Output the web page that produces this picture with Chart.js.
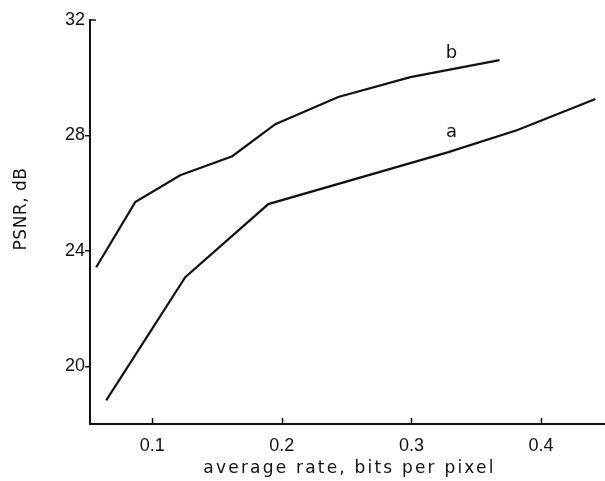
<!DOCTYPE html>
<html>
<head>
<meta charset="utf-8">
<style>
  html, body { margin: 0; padding: 0; background: #fff; }
  #wrap { width: 605px; height: 481px; }
</style>
<script src="https://cdn.jsdelivr.net/npm/chart.js@4.4.1/dist/chart.umd.min.js"></script>
</head>
<body>
<div id="wrap"><canvas id="psnrChart" width="605" height="481"></canvas></div>
<script>
// rate (bits per pixel) vs PSNR (dB) for the two coders
const rateA = [0.0645, 0.1255, 0.1896, 0.3286, 0.3819, 0.442];
const psnrA = [18.82, 23.09, 25.62, 27.42, 28.19, 29.26];
const rateB = [0.0568, 0.0869, 0.1216, 0.1618, 0.195, 0.2436, 0.2992, 0.368];
const psnrB = [23.43, 25.69, 26.62, 27.28, 28.39, 29.33, 30.02, 30.61];
const curveNames = ['a', 'b'];
const xTicks = [0.1, 0.2, 0.3, 0.4];
const yTicks = [20, 24, 28, 32];
const xTitle = 'average rate, bits per pixel';
const yTitle = 'PSNR, dB';

const ink = '#111';

function toPoints(xs, ys) {
    return xs.map((x, i) => ({ x: x, y: ys[i] }));
}

// inward tick marks, curve names and axis titles
const decorations = {
    id: 'decorations',
    afterDraw(chart) {
        const ctx = chart.ctx;
        const xs = chart.scales.x;
        const ys = chart.scales.y;
        const area = chart.chartArea;
        ctx.save();
        ctx.strokeStyle = ink;
        ctx.lineWidth = 1.5;
        xTicks.forEach(v => {
            const px = Math.round(xs.getPixelForValue(v)) + 0.5;
            ctx.beginPath();
            ctx.moveTo(px, area.bottom);
            ctx.lineTo(px, area.bottom - 6);
            ctx.stroke();
        });
        // top tick of the y axis points into the plot
        const topY = ys.getPixelForValue(yTicks[yTicks.length - 1]);
        ctx.beginPath();
        ctx.moveTo(area.left, topY);
        ctx.lineTo(area.left + 6, topY);
        ctx.stroke();

        ctx.fillStyle = ink;
        ctx.font = '18px "DejaVu Sans"';
        ctx.textAlign = 'center';
        ctx.textBaseline = 'middle';
        ctx.fillText(curveNames[0], xs.getPixelForValue(0.331), ys.getPixelForValue(28.12));
        ctx.fillText(curveNames[1], xs.getPixelForValue(0.331), ys.getPixelForValue(30.86));

        ctx.font = '17px "DejaVu Sans"';
        ctx.letterSpacing = '2.2px';
        ctx.fillText(xTitle, (area.left + area.right) / 2 + 2, 469);

        ctx.font = '17px "DejaVu Sans"';
        ctx.letterSpacing = '0.5px';
        ctx.translate(22, (area.top + area.bottom) / 2 - 13);
        ctx.rotate(-Math.PI / 2);
        ctx.fillText(yTitle, 0, 0);
        ctx.restore();
    }
};

new Chart(document.getElementById('psnrChart'), {
    type: 'line',
    data: {
        datasets: [
            { label: curveNames[0], data: toPoints(rateA, psnrA) },
            { label: curveNames[1], data: toPoints(rateB, psnrB) }
        ]
    },
    options: {
        responsive: false,
        devicePixelRatio: 1,
        animation: false,
        layout: { padding: { top: 20, right: 0, left: 0, bottom: 0 } },
        elements: {
            line: { borderColor: ink, borderWidth: 2.2, tension: 0, fill: false },
            point: { radius: 0 }
        },
        plugins: {
            legend: { display: false },
            tooltip: { enabled: false }
        },
        scales: {
            x: {
                type: 'linear',
                min: 0.052,
                max: 0.4494,
                afterFit: scale => { scale.height = 57; },
                afterBuildTicks: scale => { scale.ticks = xTicks.map(v => ({ value: v })); },
                grid: { display: false },
                border: { display: true, color: ink, width: 2 },
                ticks: {
                    color: ink,
                    padding: 3,
                    maxRotation: 0,
                    font: { family: 'Liberation Sans', size: 18 },
                    callback: v => String(v)
                }
            },
            y: {
                type: 'linear',
                min: 18,
                max: 32,
                afterFit: scale => { scale.width = 90; },
                afterBuildTicks: scale => { scale.ticks = yTicks.map(v => ({ value: v })); },
                grid: {
                    drawOnChartArea: false,
                    drawTicks: true,
                    tickLength: 5,
                    lineWidth: 1.5,
                    color: c => (c.tick && c.tick.value === 32 ? 'rgba(0,0,0,0)' : ink)
                },
                border: { display: true, color: ink, width: 2 },
                ticks: {
                    color: ink,
                    padding: 0,
                    font: { family: 'Liberation Sans', size: 18 },
                    callback: v => String(v)
                }
            }
        }
    },
    plugins: [decorations]
});
</script>
</body>
</html>
